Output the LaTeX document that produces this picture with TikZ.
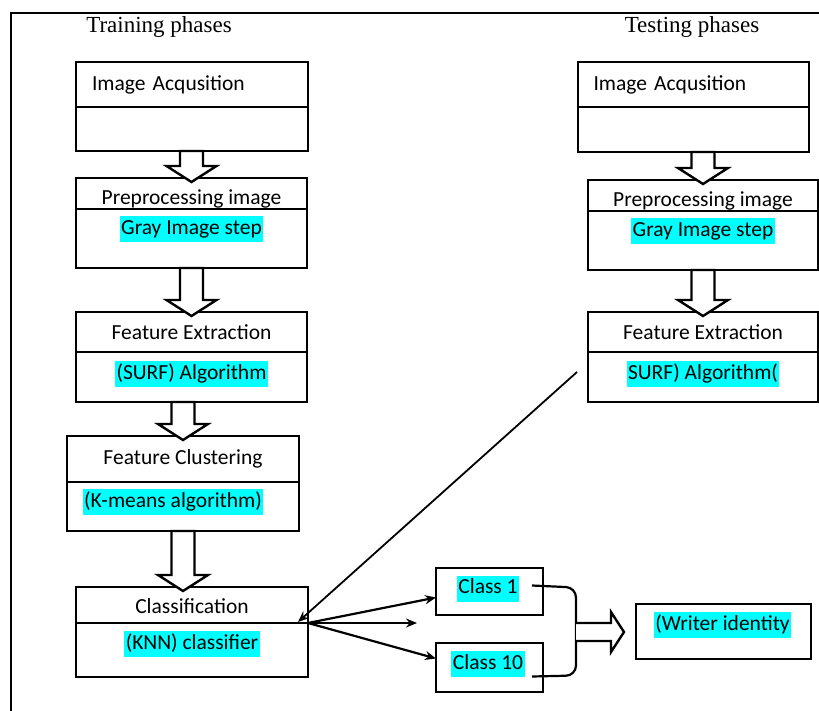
\documentclass[tikz,border=0pt]{standalone}
\usepackage{fontspec}
\setmainfont{Carlito}
\newfontfamily\titlefont{Liberation Serif}
\usetikzlibrary{positioning,calc,arrows.meta}
\definecolor{hlcyan}{RGB}{0,255,255}

\tikzset{
  part/.style={draw, line width=2.6pt, outer sep=0pt, inner sep=0pt},
  hl/.style={fill=hlcyan, inner xsep=1.5pt, inner ysep=3pt, text height=15pt, text depth=5pt},
  blockarrow/.style={draw, fill=white, line width=2.4pt, line join=miter},
  link/.style={line width=2.2pt, -{Stealth[length=11pt,width=9pt]}},
}

% hollow arrow pointing down, tip at #2
\newcommand{\blockdown}[2]{%
  \draw[blockarrow] let \p1=(#1), \p2=(#2) in
    (\x2-11.5pt,\y1) -- (\x2-11.5pt,\y2+12pt) -- (\x2-25pt,\y2+12pt) -- (\x2,\y2-4pt)
    -- (\x2+25pt,\y2+12pt) -- (\x2+11.5pt,\y2+12pt) -- (\x2+11.5pt,\y1) -- cycle;}

\begin{document}
\begin{tikzpicture}[x=1pt, y=-1pt, font=\fontsize{21.5}{25}\selectfont]
    \useasboundingbox (0,0) rectangle (819,711);
    \draw[line width=1.5pt] (11,711) -- (11,13) -- (819,13);

    \node[font=\titlefont\fontsize{23}{26}\selectfont] (ttitle) at (159,27) {Training phases};
    \node[font=\titlefont\fontsize{23}{26}\selectfont] (stitle) at (692,27) {Testing phases};

    % training phases
    \node[part, minimum width=232, minimum height=45, text width=200pt, align=left] (tacqh) at (192,84.5) {Image Acqusition};
    \node[part, minimum width=232, minimum height=44, below=0pt of tacqh] (tacqb) {};

    \node[part, minimum width=231, minimum height=31, text height=22pt, text depth=0pt] (tpreh) at (191.5,193.5) {Preprocessing image};
    \node[part, minimum width=231, minimum height=59, below=0pt of tpreh] (tpreb) {};
    \node[hl, below=7pt of tpreb.north] (tgray) {Gray Image step};

    \node[part, minimum width=231, minimum height=40] (tfeath) at (191.5,332) {Feature Extraction};
    \node[part, minimum width=231, minimum height=50, below=0pt of tfeath] (tfeatb) {};
    \node[hl, below=9pt of tfeatb.north] (tsurf) {(SURF) Algorithm};

    \node[part, minimum width=232, minimum height=46] (tcluh) at (183,459) {Feature Clustering};
    \node[part, minimum width=232, minimum height=49, below=0pt of tcluh] (tclub) {};
    \node[hl, below=7pt of tclub.north, xshift=-10pt] (tkmeans) {(K-means algorithm)};

    \node[part, minimum width=232, minimum height=36, text height=19pt, text depth=2pt] (tclsh) at (192,605) {Classification};
    \node[part, minimum width=232, minimum height=54, below=0pt of tclsh] (tclsb) {};
    \node[hl, below=8pt of tclsb.north] (tknn) {(KNN) classifier};

    % testing phases
    \node[part, minimum width=231, minimum height=45, text width=200pt, align=left] (sacqh) at (693.5,84.5) {Image Acqusition};
    \node[part, minimum width=231, minimum height=45, below=0pt of sacqh] (sacqb) {};

    \node[part, minimum width=230, minimum height=31, text height=22pt, text depth=0pt] (spreh) at (703,195.5) {Preprocessing image};
    \node[part, minimum width=230, minimum height=59, below=0pt of spreh] (spreb) {};
    \node[hl, below=7pt of spreb.north] (sgray) {Gray Image step};

    \node[part, minimum width=230, minimum height=40] (sfeath) at (703,332) {Feature Extraction};
    \node[part, minimum width=230, minimum height=50, below=0pt of sfeath] (sfeatb) {};
    \node[hl, below=9pt of sfeatb.north] (ssurf) {SURF) Algorithm(};

    % classes and result
    \node[part, minimum width=107, minimum height=47] (c1) at (489.5,591.5) {};
    \node[hl] (c1t) at ($(c1)+(-1.5,-3)$) {Class 1};
    \node[part, minimum width=107, minimum height=49] (c10) at (489.5,667.5) {};
    \node[hl] (c10t) at ($(c10)+(-1.5,-3.5)$) {Class 10};
    \node[part, minimum width=175, minimum height=55] (writer) at (723.5,631.5) {};
    \node[hl] (writert) at ($(writer)+(-1,-6.5)$) {(Writer identity};

    % block arrows
    \blockdown{tacqb.south}{tpreh.north}
    \blockdown{tpreb.south}{tfeath.north}
    \blockdown{tfeatb.south}{tcluh.north}
    \blockdown{tclub.south}{tclsh.north -| tclub.south}
    \blockdown{sacqb.south}{spreh.north}
    \blockdown{spreb.south}{sfeath.north}

    % links
    \coordinate (sfree) at (577,372);
    \coordinate (mfree) at (417,623);
    \coordinate (brk) at (576,632);
    \coordinate (wtip) at ($(writer.west)+(-12,0)$);
    \draw[line width=1.8pt, -{Stealth[length=11pt,width=9pt]}] (sfree) -- ($(tclsb.north east)+(-10,-1)$);
    \draw[link] (tclsb.north east) -- ($(c1.west)+(0,6)$);
    \draw[link] (tclsb.north east) -- (mfree);
    \draw[link] (tclsb.north east) -- ($(c10.west)+(0,-9)$);
    \draw[line width=2.2pt, rounded corners=10pt] ($(c1.east)+(-11,-6)$) -- ($(c1.east -| brk)+(0,-4)$)
        -- ($(c10.east -| brk)+(0,8)$) -- ($(c10.east)+(-11,9)$);
    \draw[blockarrow] let \p1=(brk), \p2=(wtip) in
        (\x1,\y1+9pt) -- (\x2-13pt,\y1+9pt) -- (\x2-13pt,\y1+20pt) -- (\x2,\y1)
        -- (\x2-13pt,\y1-20pt) -- (\x2-13pt,\y1-9pt) -- (\x1,\y1-9pt);
\end{tikzpicture}
\end{document}
